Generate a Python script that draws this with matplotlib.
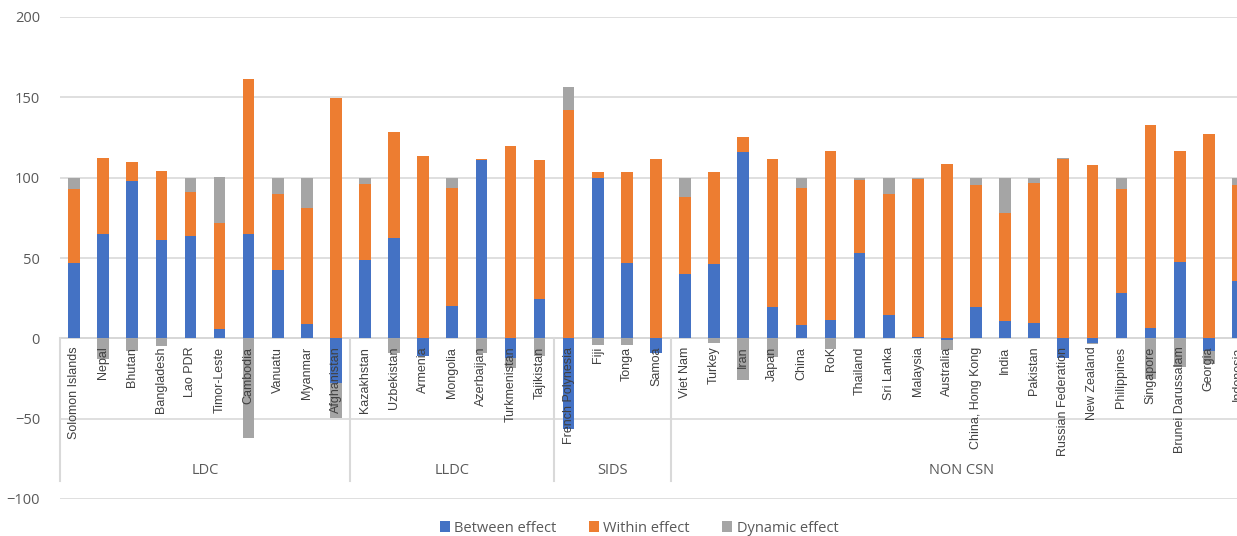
import matplotlib
matplotlib.use("Agg")
import matplotlib.pyplot as plt
import numpy as np

# Data
countries = ["Solomon Islands", "Nepal", "Bhutan", "Bangladesh", "Lao PDR", "Timor-Leste",
             "Cambodia", "Vanuatu", "Myanmar", "Afghanistan",
             "Kazakhstan", "Uzbekistan", "Armenia", "Mongolia", "Azerbaijan", "Turkmenistan",
             "Tajikistan",
             "French Polynesia", "Fiji", "Tonga", "Samoa",
             "Viet Nam", "Turkey", "Iran", "Japan", "China", "RoK", "Thailand", "Sri Lanka",
             "Malaysia", "Australia", "China, Hong Kong", "India", "Pakistan",
             "Russian Federation", "New Zealand", "Philippines", "Singapore",
             "Brunei Darussalam", "Georgia", "Indonesia"]
between = [47, 65, 98, 61, 64, 5.6, 65, 42.7, 8.7, -27.6,
           49, 62.7, -11, 20.3, 111, -12, 24.5,
           -56.6, 100, 46.7, -9.3,
           40.2, 46.5, 115.8, 19.2, 8.5, 11.3, 53, 14.6, 0.8, -1,
           19.4, 10.8, 9.8, -12.3, -2.7, 28.1, 6.7, 47.7, -7.9, 35.8]
within = [46, 47.5, 12, 43, 27, 66, 96.4, 47.3, 72.6, 149.8,
          47, 66, 113.3, 73.5, 0.4, 119.7, 86.3,
          142.3, 3.7, 57, 111.4,
          47.7, 56.8, 9.8, 92.3, 85, 105.6, 45.8, 75, 98.4, 108.3,
          76.2, 66.9, 86.7, 111.9, 107.7, 64.8, 126.2, 68.8, 126.9, 59.8]
dynamic = [7, -13, -8, -5, 9, 28.6, -62, 10, 18.7, -22,
           4, -9, 0, 6.2, -9, -6.7, -11,
           14, -4, -4, 0,
           12.1, -3, -25.8, -11.7, 6.5, -6.5, 1.2, 10.4, 0.8, -6.5,
           4.4, 22.3, 3.5, 0.5, -1.1, 7.1, -25, -18, -8, 4.4]
groups = ["LDC", "LLDC", "SIDS", "NON CSN"]
group_sizes = [10, 7, 4, 20]

series = [("Between effect", between, "#4472C4"),
          ("Within effect", within, "#ED7D31"),
          ("Dynamic effect", dynamic, "#A5A5A5")]

fig = plt.figure(figsize=(12.37, 5.36), dpi=100)
ax = fig.add_axes([59.5 / 1237, 37 / 536, 1 - 59.5 / 1237, 482 / 536])

x = np.arange(len(countries))
pos_base = np.zeros(len(x))
neg_base = np.zeros(len(x))
for name, vals, col in series:
    v = np.array(vals, dtype=float)
    bottom = np.where(v >= 0, pos_base, neg_base)
    ax.bar(x, v, 0.4, bottom=bottom, color=col, label=name, zorder=2)
    pos_base += np.where(v >= 0, v, 0)
    neg_base += np.where(v < 0, v, 0)

ax.set_xlim(-0.5, 39.97)
ax.set_ylim(-100, 200)
ax.set_yticks([-100, -50, 0, 50, 100, 150, 200])
for t in [-100, -50, 50, 100, 150, 200]:
    ax.axhline(t, color="#D9D9D9", lw=1.2, zorder=0)
ax.axhline(0, color="#D0D0D0", lw=1.2, zorder=1)
ax.tick_params(axis="y", length=0, pad=14, labelsize=10.5, labelcolor="#595959")
ax.tick_params(axis="x", length=0)
ax.set_xticks([])
for lab in ax.get_yticklabels():
    lab.set_family(["Open Sans", "DejaVu Sans"])
for s in ax.spines.values():
    s.set_visible(False)

# category labels
for i, name in enumerate(countries):
    ax.annotate(name, xy=(i, 0), xytext=(0, -6), textcoords="offset points",
                rotation=90, ha="center", va="top", fontsize=9,
                family=["Liberation Sans Narrow", "Liberation Sans", "DejaVu Sans"],
                color="#404040", zorder=5, annotation_clip=False)

# group separators and labels
edges = np.concatenate([[0], np.cumsum(group_sizes)]) - 0.5
for e in edges[:-1]:
    ax.plot([e, e], [0, -88.5], color="#D9D9D9", lw=1.5, zorder=1, clip_on=False)
for g, a, b in zip(groups, edges[:-1], edges[1:]):
    ax.text((a + b) / 2, -82.5, g, ha="center", va="center", fontsize=10.5,
            family=["Open Sans", "DejaVu Sans"], color="#595959")

fig.legend(loc="center", bbox_to_anchor=(639 / 1237, 1 - 528 / 536), ncol=3, frameon=False,
           prop={"family": ["Open Sans", "DejaVu Sans"], "size": 10.5},
           handlelength=0.7, handleheight=0.7, handletextpad=0.3, columnspacing=2.2,
           labelcolor="#595959")

fig.savefig("out.png", dpi=100)
